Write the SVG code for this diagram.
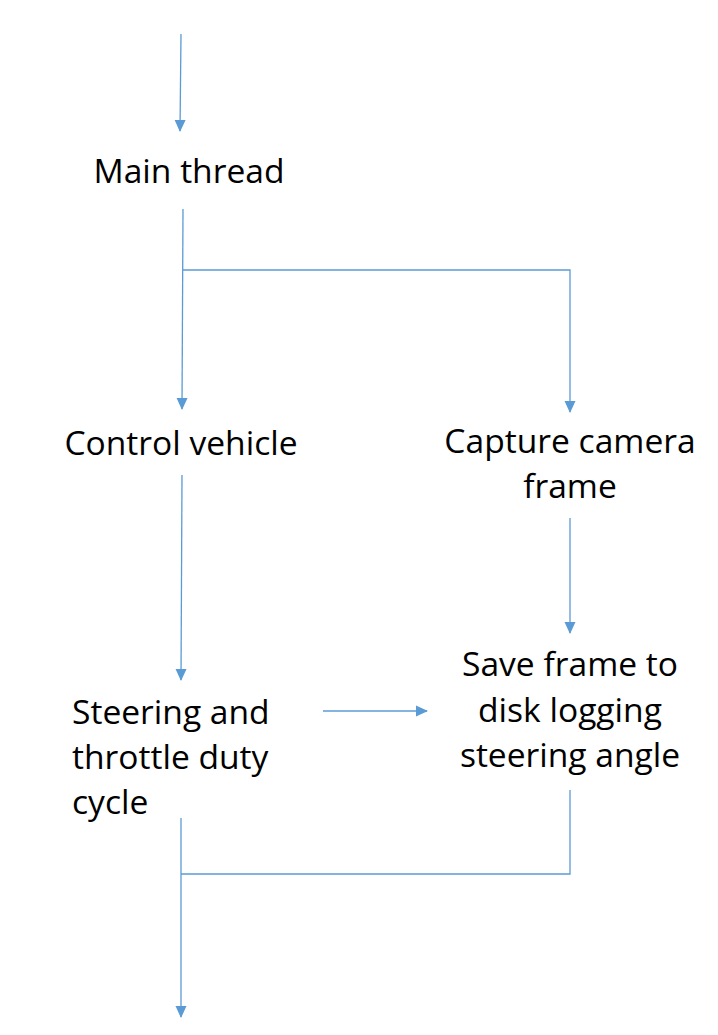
<svg xmlns="http://www.w3.org/2000/svg" width="718" height="1035" viewBox="0 0 718 1035">
<style>
.t{font-family:"Open Sans","Noto Sans","Liberation Sans",sans-serif;font-size:33.6px;fill:#000}
.c{stroke:#5B9BD5;stroke-width:1.3;fill:none}
</style>
<defs>
<marker id="ah" markerWidth="12" markerHeight="12" refX="11" refY="6" orient="auto" markerUnits="userSpaceOnUse">
<path d="M0,0.5 L12,6 L0,11.5 Z" fill="#5B9BD5"/>
</marker>
</defs>
<rect width="718" height="1035" fill="#fff"/>
<g id="connectors">
<path class="c" d="M181,34 L180,131" marker-end="url(#ah)"/>
<path class="c" d="M183,209 L182,409" marker-end="url(#ah)"/>
<path class="c" d="M183,270 L570,270 L570,412" marker-end="url(#ah)"/>
<path class="c" d="M182,475 L181,680" marker-end="url(#ah)"/>
<path class="c" d="M570,518 L570,633" marker-end="url(#ah)"/>
<path class="c" d="M323,711 L427,711" marker-end="url(#ah)"/>
<path class="c" d="M570,790 L570,874 L181,874"/>
<path class="c" d="M181,818 L181,1017" marker-end="url(#ah)"/>
</g>
<g id="main-thread"><text class="t" x="189" y="183" text-anchor="middle">Main thread</text></g>
<g id="control-vehicle"><text class="t" x="181" y="455" text-anchor="middle">Control vehicle</text></g>
<g id="capture-camera-frame"><text class="t" text-anchor="middle"><tspan x="570" y="453">Capture camera</tspan><tspan x="570" y="498">frame</tspan></text></g>
<g id="steering-throttle"><text class="t"><tspan x="72" y="724">Steering and</tspan><tspan x="72" y="769">throttle duty</tspan><tspan x="72" y="814">cycle</tspan></text></g>
<g id="save-frame"><text class="t" text-anchor="middle"><tspan x="570" y="676">Save frame to</tspan><tspan x="570" y="722">disk logging</tspan><tspan x="570" y="767">steering angle</tspan></text></g>
</svg>
